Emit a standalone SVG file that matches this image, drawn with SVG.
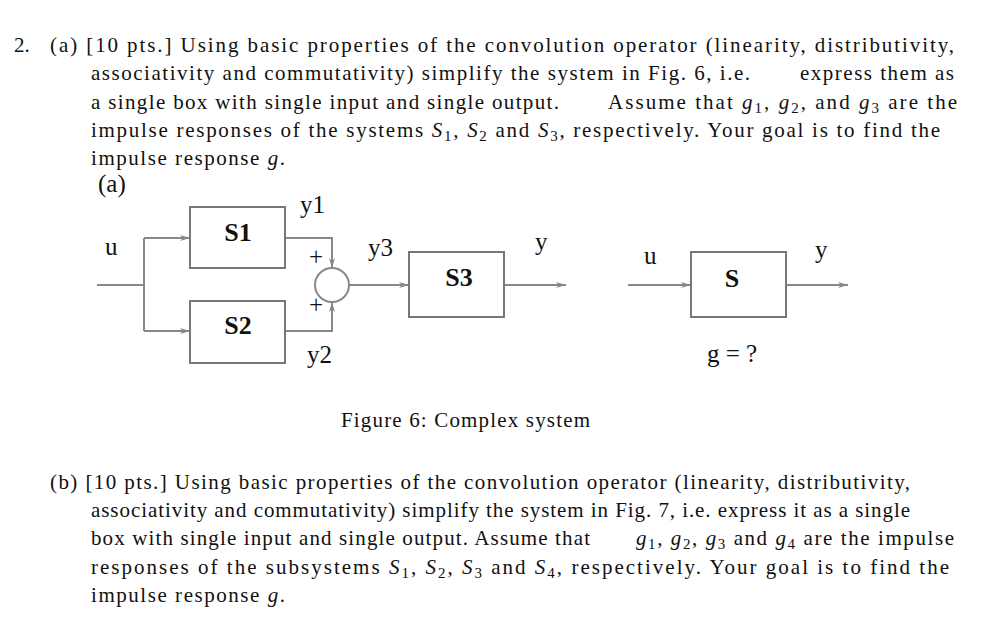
<svg xmlns="http://www.w3.org/2000/svg" width="984" height="620" viewBox="0 0 984 620">
<style>
text{font-family:"Liberation Serif",serif;fill:#111}
.t{font-size:21px}
.i{font-style:italic}
.b{font-size:26px;font-weight:bold}
.l{font-size:25px}
.box{fill:none;stroke:#777;stroke-width:2}
.c{fill:none;stroke:#888;stroke-width:2}
</style>
<defs><marker id="a" viewBox="0 0 10 10" refX="10" refY="5" markerWidth="10" markerHeight="10" markerUnits="userSpaceOnUse" orient="auto"><path d="M0,2 L10,5 L0,8 L3,5z" fill="#888"/></marker></defs>
<rect width="984" height="620" fill="#fff"/>
<g id="text-a" class="t">
<text x="14" y="52">2.</text>
<text x="50" y="52" textLength="904" lengthAdjust="spacing">(a) [10 pts.]  Using basic properties of the convolution operator (linearity, distributivity,</text>
<text x="91" y="80" textLength="659" lengthAdjust="spacing">associativity and commutativity) simplify the system in Fig. 6, i.e.</text>
<text x="800" y="80" textLength="154" lengthAdjust="spacing">express them as</text>
<text x="91" y="109" textLength="468" lengthAdjust="spacing">a single box with single input and single output.</text>
<text x="608" y="109" textLength="349" lengthAdjust="spacing">Assume that  <tspan class="i">g</tspan><tspan font-size="15" dy="4">1</tspan><tspan dy="-4">, </tspan><tspan class="i">g</tspan><tspan font-size="15" dy="4">2</tspan><tspan dy="-4">, and  </tspan><tspan class="i">g</tspan><tspan font-size="15" dy="4">3</tspan><tspan dy="-4">  are the</tspan></text>
<text x="91" y="137" textLength="849" lengthAdjust="spacing">impulse responses of the systems   <tspan class="i">S</tspan><tspan font-size="15" dy="4">1</tspan><tspan dy="-4">,  </tspan><tspan class="i">S</tspan><tspan font-size="15" dy="4">2</tspan><tspan dy="-4"> and  </tspan><tspan class="i">S</tspan><tspan font-size="15" dy="4">3</tspan><tspan dy="-4">, respectively. Your goal is to find the</tspan></text>
<text x="91" y="165" textLength="194" lengthAdjust="spacing">impulse response  <tspan class="i">g</tspan>.</text>
<text x="98" y="192" class="l">(a)</text>
</g>
<g id="connectors">
<path class="c" d="M97,285 H144 M144,238 V331" />
<path class="c" d="M144,238 H190" marker-end="url(#a)"/>
<path class="c" d="M144,331 H190" marker-end="url(#a)"/>
<path class="c" d="M285,238 H332 V268" marker-end="url(#a)"/>
<path class="c" d="M285,331 H332 V302" marker-end="url(#a)"/>
<path class="c" d="M349,285 H409" marker-end="url(#a)"/>
<path class="c" d="M504,285 H566" marker-end="url(#a)"/>
<path class="c" d="M628,285 H691" marker-end="url(#a)"/>
<path class="c" d="M786,285 H848" marker-end="url(#a)"/>
</g>
<g id="S1"><rect class="box" x="190" y="207" width="95" height="61"/><text class="b" x="238" y="241" text-anchor="middle">S1</text></g>
<g id="S2"><rect class="box" x="190" y="301" width="95" height="62"/><text class="b" x="238" y="334" text-anchor="middle">S2</text></g>
<g id="sum"><circle class="c" cx="332" cy="285" r="17"/><text class="l" x="316" y="265" text-anchor="middle">+</text><text class="l" x="316" y="313" text-anchor="middle">+</text></g>
<g id="S3"><rect class="box" x="409" y="252" width="95" height="65"/><text class="b" x="459" y="286" text-anchor="middle">S3</text></g>
<g id="S"><rect class="box" x="691" y="252" width="95" height="65"/><text class="b" x="732" y="287" text-anchor="middle">S</text></g>
<g id="labels" class="l">
<text x="105" y="255">u</text>
<text x="300" y="213">y1</text>
<text x="307" y="363">y2</text>
<text x="368" y="256">y3</text>
<text x="535" y="250">y</text>
<text x="644" y="264">u</text>
<text x="815" y="258">y</text>
<text x="707" y="362">g = ?</text>
<text x="341" y="427" class="t" textLength="249" lengthAdjust="spacing">Figure 6: Complex system</text>
</g>
<g id="text-b" class="t">
<text x="50" y="489" textLength="860" lengthAdjust="spacing">(b) [10 pts.]  Using basic properties of the convolution operator (linearity, distributivity,</text>
<text x="91" y="517" textLength="819" lengthAdjust="spacing">associativity and commutativity) simplify the system in Fig. 7, i.e. express it as a single</text>
<text x="91" y="545" textLength="499" lengthAdjust="spacing">box with single input and single output. Assume that</text>
<text x="636" y="545" textLength="318" lengthAdjust="spacing"><tspan class="i">g</tspan><tspan font-size="15" dy="4">1</tspan><tspan dy="-4">,  </tspan><tspan class="i">g</tspan><tspan font-size="15" dy="4">2</tspan><tspan dy="-4">,  </tspan><tspan class="i">g</tspan><tspan font-size="15" dy="4">3</tspan><tspan dy="-4"> and  </tspan><tspan class="i">g</tspan><tspan font-size="15" dy="4">4</tspan><tspan dy="-4"> are the impulse</tspan></text>
<text x="91" y="574" textLength="858" lengthAdjust="spacing">responses of the subsystems   <tspan class="i">S</tspan><tspan font-size="15" dy="4">1</tspan><tspan dy="-4">,  </tspan><tspan class="i">S</tspan><tspan font-size="15" dy="4">2</tspan><tspan dy="-4">,  </tspan><tspan class="i">S</tspan><tspan font-size="15" dy="4">3</tspan><tspan dy="-4"> and  </tspan><tspan class="i">S</tspan><tspan font-size="15" dy="4">4</tspan><tspan dy="-4">, respectively.    Your goal is to find the</tspan></text>
<text x="91" y="602" textLength="194" lengthAdjust="spacing">impulse response  <tspan class="i">g</tspan>.</text>
</g>
</svg>
